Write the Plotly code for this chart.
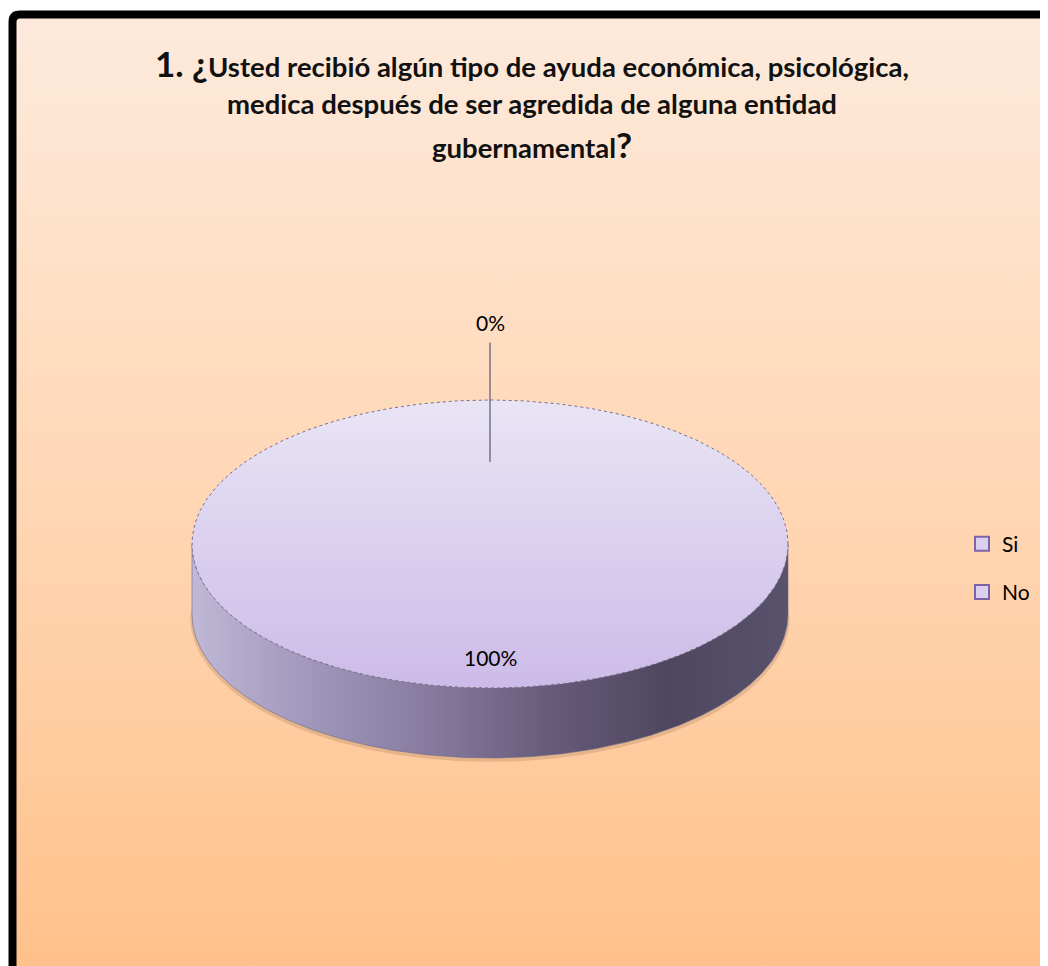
import numpy as np
import plotly.graph_objects as go

# ---------------- data ----------------
categories = ["Si", "No"]
values = [0, 100]
title_lines = [
    "Usted recibió algún tipo de ayuda económica, psicológica,",
    "medica después de ser agredida de alguna entidad",
    "gubernamental",
]
title_prefix = "1. ¿"
title_suffix = "?"

# ---------------- layout / geometry (style only) ----------------
W, H = 1048, 966
OFF = 8                    # browser body margin compensation
cx, cy = 490, 544          # centre of pie top face (px)
rx, ry = 298, 144          # ellipse radii of top face
depth = 70                 # thickness of the 3D pie
FONT = "Lato"

total = float(sum(values))
fracs = [v / total for v in values]
pcts = [f"{round(f * 100):.0f}%" for f in fracs]

def ell(theta_deg, k=1.0, dy=0.0):
    t = np.radians(theta_deg)
    return cx + rx * k * np.cos(t), cy - ry * k * np.sin(t) + dy

fig = go.Figure()

# background (gradient panel)
bx = [16, W + 20, W + 20, 16, 16]
by = [18, 18, H + 20, H + 20, 18]
fig.add_trace(go.Scatter(
    x=bx, y=by, mode="lines", fill="toself", line=dict(width=0),
    fillgradient=dict(type="vertical", start=18, stop=H,
                      colorscale=[[0, "#FDEADC"], [0.5, "#FFD7B5"], [1, "#FFC18B"]]),
    hoverinfo="skip", showlegend=False))

# slice angle ranges (Excel: start at 12 o'clock, clockwise)
starts, ends = [], []
acc = 0.0
for f in fracs:
    a0 = 90 - acc * 360
    acc += f
    a1 = 90 - acc * 360
    starts.append(a0)
    ends.append(a1)

side_scale = [[0, "#C0B8D6"], [0.15, "#A79EC1"], [0.4, "#867B9E"],
              [0.6, "#665B7A"], [0.8, "#4F4760"], [1, "#58526C"]]
top_scale = [[0, "#E9E5F5"], [1, "#CCBBE8"]]

# soft shadow under the pie
th_s = np.linspace(180, 360, 300)
sx_t, sy_t = ell(th_s, dy=depth - 6)
sx_b, sy_b = ell(th_s[::-1], k=1.006, dy=depth + 3)
fig.add_trace(go.Scatter(
    x=np.concatenate([sx_t, sx_b, sx_t[:1]]), y=np.concatenate([sy_t, sy_b, sy_t[:1]]),
    mode="lines", fill="toself", line=dict(width=0), fillcolor="rgba(150,110,80,0.25)",
    hoverinfo="skip", showlegend=False))

# side walls (front half only)
for i, (a0, a1) in enumerate(zip(starts, ends)):
    if a0 == a1:
        continue
    th = np.linspace(a0, a1, 400)
    th_mod = np.mod(th, 360)
    front = th_mod[(th_mod >= 180) & (th_mod <= 360)]
    if len(front) < 2:
        continue
    front = np.linspace(max(180, front.min()), min(360, front.max()), 300)
    xt, yt = ell(front)
    xb, yb = ell(front[::-1], dy=depth)
    fig.add_trace(go.Scatter(
        x=np.concatenate([xt, xb, xt[:1]]), y=np.concatenate([yt, yb, yt[:1]]),
        mode="lines", fill="toself", line=dict(width=0.6, color="#6E6886"),
        fillgradient=dict(type="horizontal", start=cx - rx, stop=cx + rx,
                          colorscale=side_scale),
        hoverinfo="skip", showlegend=False))

# top faces
for i, (a0, a1) in enumerate(zip(starts, ends)):
    if a0 == a1:
        continue
    th = np.linspace(a0, a1, 500)
    xa, ya = ell(th)
    fig.add_trace(go.Scatter(
        x=np.concatenate([[cx], xa, [cx]]), y=np.concatenate([[cy], ya, [cy]]),
        mode="lines", fill="toself", line=dict(width=0),
        fillgradient=dict(type="vertical", start=cy - ry, stop=cy + ry,
                          colorscale=top_scale),
        hoverinfo="skip", showlegend=False))

# dotted outline of top face
tt = np.linspace(0, 360, 600)
ox, oy = ell(tt)
fig.add_trace(go.Scatter(x=ox, y=oy, mode="lines",
                         line=dict(width=1, color="#777090", dash="dot"),
                         hoverinfo="skip", showlegend=False))

# data labels
annotations = []
for i, (a0, a1) in enumerate(zip(starts, ends)):
    mid = (a0 + a1) / 2
    if fracs[i] < 0.05:
        lx, ly = ell(mid, k=1.54)
        sx, sy = ell(mid, k=1.40)
        ex, ey = ell(mid, k=0.57)
        fig.add_trace(go.Scatter(x=[sx, ex], y=[sy, ey], mode="lines",
                                 line=dict(width=1.2, color="#5A5670"),
                                 hoverinfo="skip", showlegend=False))
    else:
        lx, ly = ell(mid, k=0.785)
    annotations.append(dict(x=lx, y=ly, xref="x", yref="y", text=pcts[i],
                            showarrow=False, font=dict(family=FONT, size=21, color="#000000")))

# title
title_y = [63, 103, 144]
for j, line in enumerate(title_lines):
    txt = line
    if j == 0:
        txt = f"<span style='font-size:35px'>{title_prefix}</span>" + txt
    if j == len(title_lines) - 1:
        txt = txt + f"<span style='font-size:35px'>{title_suffix}</span>"
    annotations.append(dict(x=532, y=title_y[j], xref="x", yref="y",
                            text=f"<b>{txt}</b>", showarrow=False,
                            font=dict(family=FONT, size=27.5, color="#111111")))

# legend entries
for i, c in enumerate(categories):
    fig.add_trace(go.Scatter(
        x=[None], y=[None], mode="markers", name=c, legendgroup=c,
        marker=dict(symbol="square", size=14, color="#D9D1EF",
                    line=dict(color="#7E63A9", width=2))))

fig.update_layout(
    width=W, height=H,
    margin=dict(l=0, r=0, t=0, b=0),
    paper_bgcolor="white", plot_bgcolor="white",
    xaxis=dict(range=[OFF, W + OFF], visible=False, fixedrange=True),
    yaxis=dict(range=[H + OFF, OFF], visible=False, fixedrange=True),
    annotations=annotations,
    showlegend=True,
    legend=dict(x=(962 - OFF) / W, y=1 - (568 - OFF) / H, xanchor="left", yanchor="middle",
                bgcolor="rgba(0,0,0,0)", traceorder="grouped", tracegroupgap=18,
                font=dict(family=FONT, size=21, color="#000000")),
    shapes=[dict(type="path", xref="x", yref="y",
                 path=f"M 12.5,{H + 20} L 12.5,22 Q 12.5,14.5 20,14.5 L {W + 20},14.5",
                 line=dict(color="black", width=8))],
)

fig.write_html("out.html")
